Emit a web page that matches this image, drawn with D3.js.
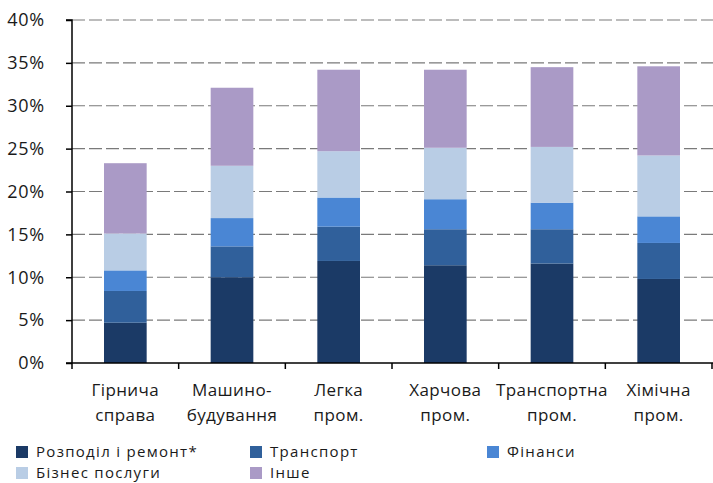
<!DOCTYPE html>
<html><head><meta charset="utf-8">
<script src="https://cdn.jsdelivr.net/npm/d3@7"></script>
<style>body{margin:0;background:#fff;overflow:hidden}svg{display:block}text{font-family:"Open Sans","Noto Sans",sans-serif;fill:#1a1a1a}</style>
</head><body><svg id="c" width="713" height="483"></svg>
<script>
const categories = [["Гірнича","справа"],["Машино-","будування"],["Легка","пром."],["Харчова","пром."],["Транспортна","пром."],["Хімічна","пром."]];
const seriesNames = ["Розподіл і ремонт*","Транспорт","Фінанси","Бізнес послуги","Інше"];
const rozpodil = [4.7, 10.0, 11.9, 11.4, 11.6, 9.8];
const transport = [3.7, 3.6, 4.0, 4.2, 4.0, 4.2];
const finansy = [2.4, 3.3, 3.4, 3.5, 3.1, 3.1];
const biznes = [4.3, 6.1, 5.4, 6.0, 6.5, 7.1];
const inshe = [8.2, 9.1, 9.5, 9.1, 9.3, 10.4];
const yTicks = [0,5,10,15,20,25,30,35,40];
const colors = ["#1b3a66","#30609b","#4a86d4","#b9cde5","#aa9ac6"];

(function(){
const seriesVals = [rozpodil, transport, finansy, biznes, inshe];
const rows = categories.map((c,i)=>{const o={key:i}; seriesNames.forEach((s,j)=>o[s]=seriesVals[j][i]); return o;});
const stack = d3.stack().keys(seriesNames)(rows);

const svg = d3.select("#c");
const pl=72, pr=712, pt=20, pb=363;
const x = d3.scaleBand().domain(categories.map((c,i)=>i)).range([pl,pr]).paddingInner(0.6).paddingOuter(0.3);
const y = d3.scaleLinear().domain([0,40]).range([pb,pt]);

svg.append("g").selectAll("line").data(yTicks.filter(t=>t>0)).join("line")
  .attr("x1",pl).attr("x2",713).attr("y1",d=>y(d)).attr("y2",d=>y(d))
  .attr("stroke","#7a7a7a").attr("stroke-width",1.2).attr("stroke-dasharray","13,4");

svg.append("g").selectAll("g").data(stack).join("g").attr("fill",(d,i)=>colors[i])
  .selectAll("rect").data(d=>d).join("rect")
  .attr("x",(d,i)=>x(i)).attr("width",x.bandwidth())
  .attr("y",d=>y(d[1])).attr("height",d=>y(d[0])-y(d[1]));

const ya = svg.append("g").attr("transform",`translate(${pl},0)`)
  .call(d3.axisLeft(y).tickValues(yTicks).tickFormat(d=>d+"%").tickSize(6).tickPadding(21));
ya.select(".domain").attr("stroke","#000").attr("stroke-width",1.5).attr("d",`M-6,${pt}H0V${pb}`);
ya.selectAll(".tick line").attr("stroke","#000").attr("stroke-width",1.5);
ya.selectAll(".tick text").attr("font-size",18).attr("letter-spacing","0.8px")
  .style("font-family","'Open Sans','Noto Sans',sans-serif").attr("fill","#1a1a1a");

const boundaries = d3.range(categories.length+1).map(i=>pl + i*(pr-pl)/categories.length);
svg.append("line").attr("x1",pl-6).attr("x2",713).attr("y1",pb).attr("y2",pb).attr("stroke","#000").attr("stroke-width",1.5);
svg.append("g").selectAll("line").data(boundaries).join("line")
  .attr("x1",d=>d).attr("x2",d=>d).attr("y1",pb).attr("y2",pb+6).attr("stroke","#000").attr("stroke-width",1.5);
const lab = svg.append("g").selectAll("text").data(categories).join("text")
  .attr("x",(d,i)=>x(i)+x.bandwidth()/2).attr("y",396).attr("text-anchor","middle")
  .attr("font-size",17).attr("letter-spacing","0.4px");
lab.selectAll("tspan").data(d=>d).join("tspan").attr("x",function(){return this.parentNode.getAttribute("x");})
  .attr("dy",(d,i)=>i===0?0:25).text(d=>d);

const legendPos = [[16,457],[250,457],[487,457],[16,478],[250,478]];
const lg = svg.append("g").selectAll("g").data(seriesNames).join("g")
  .attr("transform",(d,i)=>`translate(${legendPos[i][0]},${legendPos[i][1]})`);
lg.append("rect").attr("x",0).attr("y",-11).attr("width",12).attr("height",12).attr("fill",(d,i)=>colors[i]);
lg.append("text").attr("x",20).attr("y",0).attr("font-size",15).attr("letter-spacing","1.3px").text(d=>d);
})();
</script></body></html>
